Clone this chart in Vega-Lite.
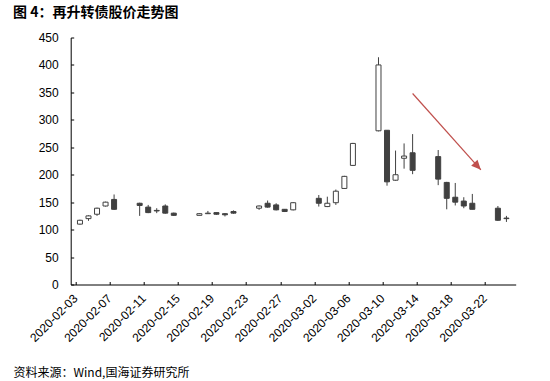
{
  "$schema": "https://vega.github.io/schema/vega-lite/v6.json",
  "width": 445,
  "height": 247,
  "autosize": {"type": "none"},
  "padding": {"left": 70.7, "top": 37.5, "right": 34.3, "bottom": 96.5},
  "background": "white",
  "title": {
    "text": "图 4：再升转债股价走势图",
    "anchor": "start",
    "frame": "group",
    "dx": -57.7,
    "offset": 12,
    "font": "Noto Sans CJK SC",
    "fontSize": 14,
    "fontWeight": "bold",
    "color": "#000000"
  },
  "config": {
    "view": {"stroke": null},
    "axis": {
      "grid": false,
      "domainColor": "#000000",
      "tickColor": "#000000",
      "labelColor": "#000000",
      "labelFont": "Liberation Sans",
      "labelFontSize": 12,
      "labelOverlap": false,
      "labelFlush": false,
      "tickSize": -3
    },
    "axisY": {"labelPadding": 15.5, "labelOverlap": false}
  },
  "encoding": {
    "x": {
      "field": "date",
      "type": "temporal",
      "scale": {
        "domain": [
          {"year": 2020, "month": 2, "date": 2, "hours": 12},
          {"year": 2020, "month": 3, "date": 24, "hours": 12}
        ]
      },
      "axis": {
        "values": [
          {"year": 2020, "month": 2, "date": 3},
          {"year": 2020, "month": 2, "date": 7},
          {"year": 2020, "month": 2, "date": 11},
          {"year": 2020, "month": 2, "date": 15},
          {"year": 2020, "month": 2, "date": 19},
          {"year": 2020, "month": 2, "date": 23},
          {"year": 2020, "month": 2, "date": 27},
          {"year": 2020, "month": 3, "date": 2},
          {"year": 2020, "month": 3, "date": 6},
          {"year": 2020, "month": 3, "date": 10},
          {"year": 2020, "month": 3, "date": 14},
          {"year": 2020, "month": 3, "date": 18},
          {"year": 2020, "month": 3, "date": 22}
        ],
        "format": "%Y-%m-%d",
        "labelAngle": -45,
        "labelAlign": "right",
        "labelBaseline": "middle",
        "labelPadding": 14.5,
        "labelOverlap": false,
        "tickOffset": -4.37,
        "labelOffset": -0.5,
        "title": "资料来源：Wind,国海证券研究所",
        "titleFont": "Noto Sans CJK SC",
        "titleFontSize": 12,
        "titleFontWeight": "normal",
        "titleColor": "#000000",
        "titleAnchor": "start",
        "titleAlign": "left",
        "titleBaseline": "middle",
        "titleX": -57.7,
        "titleY": 88
      }
    }
  },
  "layer": [
    {
      "data": {
        "values": [
          {"date": "2020-02-03", "open": 110, "high": 118, "low": 109, "close": 117},
          {"date": "2020-02-04", "open": 120, "high": 126, "low": 116, "close": 125},
          {"date": "2020-02-05", "open": 128, "high": 140, "low": 125, "close": 139},
          {"date": "2020-02-06", "open": 143, "high": 151, "low": 142, "close": 150},
          {"date": "2020-02-07", "open": 155, "high": 164, "low": 136, "close": 137},
          {"date": "2020-02-10", "open": 148, "high": 149, "low": 125, "close": 144},
          {"date": "2020-02-11", "open": 141, "high": 145, "low": 130, "close": 131},
          {"date": "2020-02-12", "open": 135, "high": 139, "low": 130, "close": 134},
          {"date": "2020-02-13", "open": 143, "high": 146, "low": 129, "close": 130},
          {"date": "2020-02-14", "open": 130, "high": 131, "low": 125, "close": 126},
          {"date": "2020-02-17", "open": 126, "high": 130, "low": 126, "close": 129},
          {"date": "2020-02-18", "open": 129, "high": 134, "low": 129, "close": 130},
          {"date": "2020-02-19", "open": 131, "high": 131, "low": 127, "close": 128},
          {"date": "2020-02-20", "open": 129, "high": 130, "low": 124, "close": 127},
          {"date": "2020-02-21", "open": 133, "high": 135, "low": 129, "close": 130},
          {"date": "2020-02-24", "open": 139, "high": 144, "low": 136, "close": 143},
          {"date": "2020-02-25", "open": 148, "high": 153, "low": 140, "close": 141},
          {"date": "2020-02-26", "open": 145, "high": 148, "low": 135, "close": 136},
          {"date": "2020-02-27", "open": 137, "high": 137, "low": 132, "close": 133},
          {"date": "2020-02-28", "open": 136, "high": 150, "low": 135, "close": 149},
          {"date": "2020-03-02", "open": 157, "high": 163, "low": 142, "close": 148},
          {"date": "2020-03-03", "open": 142, "high": 160, "low": 141, "close": 148},
          {"date": "2020-03-04", "open": 149, "high": 173, "low": 145, "close": 170},
          {"date": "2020-03-05", "open": 175, "high": 198, "low": 174, "close": 197},
          {"date": "2020-03-06", "open": 217, "high": 258, "low": 216, "close": 257},
          {"date": "2020-03-09", "open": 280, "high": 414, "low": 279, "close": 400},
          {"date": "2020-03-10", "open": 281, "high": 281, "low": 180, "close": 187},
          {"date": "2020-03-11", "open": 190, "high": 244, "low": 189, "close": 200},
          {"date": "2020-03-12", "open": 230, "high": 257, "low": 211, "close": 234},
          {"date": "2020-03-13", "open": 240, "high": 274, "low": 201, "close": 208},
          {"date": "2020-03-16", "open": 233, "high": 245, "low": 181, "close": 192},
          {"date": "2020-03-17", "open": 186, "high": 187, "low": 137, "close": 157},
          {"date": "2020-03-18", "open": 159, "high": 185, "low": 144, "close": 150},
          {"date": "2020-03-19", "open": 152, "high": 159, "low": 139, "close": 143},
          {"date": "2020-03-20", "open": 148, "high": 165, "low": 137, "close": 137},
          {"date": "2020-03-23", "open": 139, "high": 143, "low": 116, "close": 117},
          {"date": "2020-03-24", "open": 121, "high": 125, "low": 114, "close": 120}
        ],
        "format": {"parse": {"date": "date:'%Y-%m-%d'"}}
      },
      "layer": [
        {
          "mark": {"type": "rule", "color": "#404040", "strokeWidth": 1},
          "encoding": {
            "y": {
              "field": "low",
              "type": "quantitative",
              "title": null,
              "scale": {"domain": [0, 450], "nice": false},
              "axis": {"values": [0, 50, 100, 150, 200, 250, 300, 350, 400, 450], "labelOverlap": false}
            },
            "y2": {"field": "high"}
          }
        },
        {
          "mark": {"type": "bar", "size": 5, "stroke": "#404040", "strokeWidth": 1},
          "encoding": {
            "y": {
              "field": "open",
              "type": "quantitative",
              "title": null,
              "axis": {"values": [0, 50, 100, 150, 200, 250, 300, 350, 400, 450], "labelOverlap": false}
            },
            "y2": {"field": "close"},
            "fill": {
              "condition": {"test": "datum.close >= datum.open", "value": "#ffffff"},
              "value": "#404040"
            }
          }
        }
      ]
    },
    {
      "data": {
        "values": [
          {"date": "2020-03-13", "date2": "2020-03-21", "price": 348, "price2": 209}
        ],
        "format": {"parse": {"date": "date:'%Y-%m-%d'", "date2": "date:'%Y-%m-%d'"}}
      },
      "mark": {"type": "rule", "color": "#C0504D", "strokeWidth": 1.2},
      "encoding": {
        "x2": {"field": "date2"},
        "y": {
          "field": "price",
          "type": "quantitative",
          "title": null,
          "axis": {"values": [0, 50, 100, 150, 200, 250, 300, 350, 400, 450], "labelOverlap": false}
        },
        "y2": {"field": "price2"}
      }
    },
    {
      "data": {
        "values": [
          {"date": "2020-03-21", "price": 209}
        ],
        "format": {"parse": {"date": "date:'%Y-%m-%d'"}}
      },
      "mark": {
        "type": "point",
        "shape": "M0,0L-0.5,-1.1L0.5,-1.1Z",
        "filled": true,
        "opacity": 1,
        "color": "#C0504D",
        "size": 300,
        "angle": -43
      },
      "encoding": {
        "y": {
          "field": "price",
          "type": "quantitative",
          "title": null,
          "axis": {"values": [0, 50, 100, 150, 200, 250, 300, 350, 400, 450], "labelOverlap": false}
        }
      }
    }
  ]
}
